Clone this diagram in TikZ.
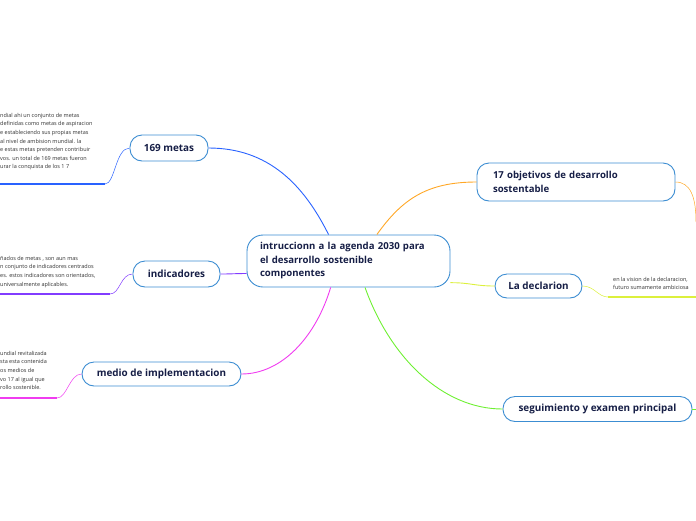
\documentclass[tikz,border=0pt]{standalone}
\usepackage{fontspec}
\setmainfont{Open Sans}

\definecolor{cadre}{RGB}{60,141,210}
\definecolor{encre}{RGB}{22,30,70}
\definecolor{gris}{RGB}{50,50,50}
\definecolor{bleu}{RGB}{41,98,255}
\definecolor{orange}{RGB}{255,167,38}
\definecolor{violet}{RGB}{130,60,255}
\definecolor{magenta}{RGB}{240,60,240}
\definecolor{jaune}{RGB}{220,240,60}
\definecolor{vert}{RGB}{110,240,50}

\begin{document}
\begin{tikzpicture}[x=1pt,y=-1pt,
  sujet/.style={draw=cadre, line width=0.9pt, fill=white, rounded corners=12pt,
    text=encre, font=\bfseries\fontsize{9.9}{13.5}\selectfont, inner ysep=0pt},
  note/.style={anchor=north west, text=gris, align=left, inner sep=0pt,
    font=\fontsize{5.5}{8.6}\selectfont},
  branche/.style={line width=0.9pt},
  brin/.style={line width=0.5pt},
  trait/.style={line width=1.6pt}]

\useasboundingbox (0,0) rectangle (696,520);

% Centre
\node[sujet, rounded corners=16pt, align=left, text width=177pt, inner xsep=13pt,
  minimum height=52pt, font=\bfseries\fontsize{9.6}{13.5}\selectfont] (centre) at (348.5,261)
  {intruccionn a la agenda 2030 para\\el desarrollo sostenible\\componentes};

% Sujets
\node[sujet, minimum width=78pt, minimum height=26pt] (metas) at (169,148) {169 metas};
\node[sujet, minimum width=87pt, minimum height=26pt] (indic) at (176.5,274) {indicadores};
\node[sujet, minimum width=159pt, minimum height=24pt] (medio) at (161.5,374) {medio de implementacion};
\node[sujet, align=left, text width=166pt, inner xsep=16pt, minimum height=38pt,
  font=\bfseries\fontsize{9.6}{13.5}\selectfont] (objet) at (576,182)
  {17 objetivos de desarrollo\\sostentable};
\node[sujet, minimum width=87pt, minimum height=24pt] (decl) at (538.5,286) {La declarion};
\node[sujet, minimum width=189pt, minimum height=25pt] (segui) at (597.5,409) {seguimiento y examen principal};

% Branches
\draw[branche, bleu] (centre.127) .. controls +(-25,-50) and +(60,0) .. (metas.east);
\draw[branche, violet] (centre.187) .. controls +(-12,0) and +(12,0) .. (indic.east);
\draw[branche, magenta] (centre.236) .. controls +(-15,50) and +(40,0) .. (medio.east);
\draw[branche, orange] (centre.43) .. controls +(25,-35) and +(-50,0) .. (objet.west);
\draw[branche, jaune] (centre.348) .. controls +(20,0) and +(-20,0) .. (decl.west);
\draw[branche, vert] (centre.302) .. controls +(25,70) and +(-60,0) .. (segui.west);

% Notes
\coordinate (nmetas) at (105,184);
\coordinate (nindic) at (110,294);
\coordinate (nmedio) at (57,398);
\coordinate (ndecl) at (608,297);
\coordinate (nobjet) at (696,222);
\coordinate (nsegui) at (696,409);

\draw[brin, bleu] (metas.west) .. controls +(-14,0) and +(10,0) .. (nmetas);
\draw[trait, bleu] (nmetas) -- (0,184);
\node[note] (tmetas) at (0,113) {ndial ahi un conjunto de metas\\
  definidas como metas de aspiracion\\
  e estableciendo  sus propias metas\\
  al nivel de ambision mundial. la\\
  e estas metas pretenden contribuir\\
  vos. un total de 169 metas fueron\\
  urar la conquista de los 1 7};

\draw[brin, violet] (indic.west) .. controls +(-12,0) and +(10,0) .. (nindic);
\draw[trait, violet] (nindic) -- (0,294);
\node[note] (tindic) at (0,256) {ñados de metas , son aun mas\\
  n conjunto de indicadores centrados\\
  es. estos indicadores son orientados,\\
  universalmente aplicables.};

\draw[brin, magenta] (medio.west) .. controls +(-12,0) and +(10,0) .. (nmedio);
\draw[trait, magenta] (nmedio) -- (0,398);
\node[note] (tmedio) at (0,351) {undial revitalizada\\
  sta esta contenida\\
  os medios de\\
  vo 17 al igual que\\
  rollo sostenible.};

\draw[brin, jaune] (decl.east) .. controls +(12,0) and +(-10,0) .. (ndecl);
\draw[trait, jaune] (ndecl) -- (696,297);
\node[note] (tdecl) at (613,277) {en la vision de la declaracion,\\
  futuro sumamente ambiciosa};

\draw[brin, orange] (objet.east) .. controls +(15,0) and +(0,-25) .. (nobjet);
\draw[brin, vert] (segui.east) -- (nsegui);

\end{tikzpicture}
\end{document}
